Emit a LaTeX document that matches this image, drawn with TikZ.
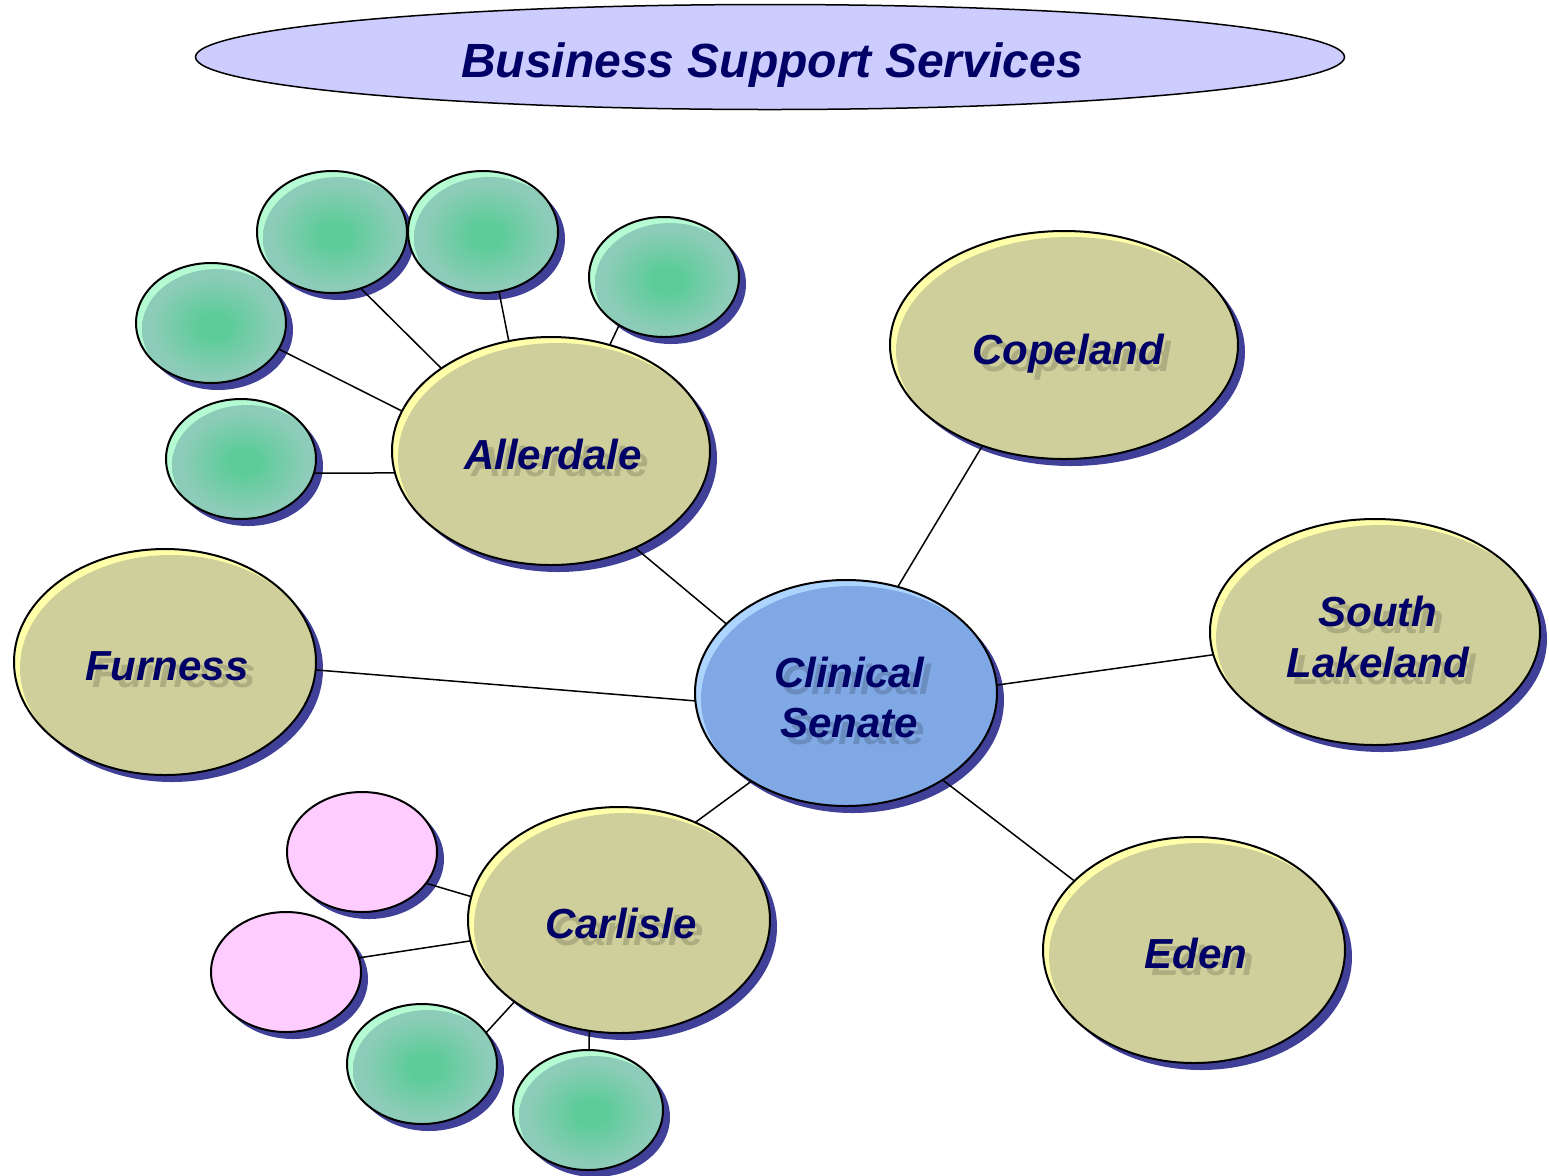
\documentclass[tikz,border=0pt]{standalone}
\usepackage{fontspec}
\setmainfont{Liberation Sans}
\usetikzlibrary{shapes.geometric}

\definecolor{khakimain}{RGB}{207,207,155}
\definecolor{khakihi}{RGB}{255,255,170}
\definecolor{bluemain}{RGB}{128,168,228}
\definecolor{bluehi}{RGB}{172,212,255}
\definecolor{greenhi}{RGB}{180,250,210}
\definecolor{greencore}{RGB}{94,204,153}
\definecolor{greenrim}{RGB}{140,204,184}
\definecolor{pinkfill}{RGB}{255,204,255}
\definecolor{dropblue}{RGB}{64,64,153}
\definecolor{titlefill}{RGB}{204,204,255}
\definecolor{navy}{RGB}{0,0,102}

% soft green glow used inside the small satellite bubbles
\pgfdeclareradialshading{greenglow}{\pgfpoint{0bp}{0bp}}{%
  color(0bp)=(greencore); color(5bp)=(greencore); color(20bp)=(greenrim);
  color(25bp)=(greenrim); color(50bp)=(greenrim)}

\newcommand\brx{0}
\newcommand\bry{0}
% #1 name, #2 x, #3 y, #4 x radius, #5 y radius (all in px units), #6 style
\newcommand\bubble[6]{%
  \fill[dropblue] (#2+7,#3+7) ellipse [x radius={#4*0.5pt}, y radius={#5*0.5pt}];
  \renewcommand\brx{#4}\renewcommand\bry{#5}%
  \node[#6, minimum width={#4*1pt}, minimum height={#5*1pt}] (#1) at (#2,#3) {};
}
% #1 name, #2 x, #3 baseline y, #4 text
\newcommand\bublabel[4]{%
  \node[lblshadow] (#1s) at (#2+7,#3+7) {#4};
  \node[lbl] (#1) at (#2,#3) {#4};
}

\tikzset{
  bubblebase/.style={ellipse, draw=black, line width=1pt, inner sep=0pt, outer sep=0pt},
  khaki/.style={bubblebase, fill=khakihi,
    path picture={\fill[khakimain] ([shift={(3pt,-3pt)}]path picture bounding box.center)
      ellipse [x radius={\brx*0.5pt}, y radius={\bry*0.5pt}];}},
  senate/.style={bubblebase, fill=bluehi,
    path picture={\fill[bluemain] ([shift={(3pt,-3pt)}]path picture bounding box.center)
      ellipse [x radius={\brx*0.5pt}, y radius={\bry*0.5pt}];}},
  greenb/.style={bubblebase, fill=greenhi,
    path picture={\shade[shading=greenglow] ([shift={(3pt,-3pt)}]path picture bounding box.center)
      ellipse [x radius={\brx*0.5pt}, y radius={\bry*0.5pt}];}},
  pinkb/.style={bubblebase, fill=pinkfill},
  link/.style={draw=black, line width=0.75pt},
  lbl/.style={font=\fontsize{21}{25}\selectfont\bfseries\itshape, text=navy,
    inner sep=0pt, anchor=base},
  lblshadow/.style={lbl, text=black, text opacity=0.16},
}

\begin{document}
\begin{tikzpicture}[x=0.5pt, y=-0.5pt]
\useasboundingbox (0,0) rectangle (1549,1175);

% heading
\node[ellipse, draw=black, line width=0.75pt, fill=titlefill, inner sep=0pt, outer sep=0pt,
      minimum width=574.5pt, minimum height=52.5pt] (title) at (770,57) {};
\node[font=\fontsize{24}{28}\selectfont\bfseries\itshape, text=navy, anchor=base, inner sep=0pt]
      (titletext) at (772,77) {Business Support Services};

% main areas
\bubble{all}{551}{451}{159}{114}{khaki}
\bubble{cop}{1064}{345}{174}{114}{khaki}
\bubble{sl}{1375}{632}{165}{113}{khaki}
\bubble{fur}{165}{662}{151}{113}{khaki}
\bubble{eden}{1194}{950}{151}{113}{khaki}
\bubble{car}{619}{920}{151}{113}{khaki}
\bubble{cs}{846}{693}{151}{113}{senate}

% satellites around Allerdale
\bubble{g1}{332}{232}{75}{61}{greenb}
\bubble{g2}{483}{232}{75}{61}{greenb}
\bubble{g3}{664}{277}{75}{60}{greenb}
\bubble{g4}{211}{323}{75}{60}{greenb}
\bubble{g5}{241}{459}{75}{60}{greenb}

% satellites around Carlisle
\bubble{p1}{362}{852}{75}{60}{pinkb}
\bubble{p2}{286}{972}{75}{60}{pinkb}
\bubble{g6}{422}{1064}{75}{60}{greenb}
\bubble{g7}{588}{1110}{75}{60}{greenb}

% connectors
\draw[link] (g1.-63.8) -- (all.143.7);
\draw[link] (g2.-75.3) -- (all.111.2);
\draw[link] (g3.-133.7) -- (all.61.6);
\draw[link] (g4.-21.5) -- (all.165.1);
\draw[link] (g5.-11.3) -- (all.188.3);
\draw[link] (all.-49.7) -- (cs.150.7);
\draw[link] (cop.-129.6) -- (cs.64.6);
\draw[link] (sl.188.3) -- (cs.3.0);
\draw[link] (fur.-3.0) -- (cs.183.0);
\draw[link] (eden.150.7) -- (cs.-42.7);
\draw[link] (car.52.2) -- (cs.-137.3);
\draw[link] (p1.-26.6) -- (car.171.7);
\draw[link] (p2.11.2) -- (car.188.7);
\draw[link] (g6.26.9) -- (car.218.3);
\draw[link] (g7.89) -- (car.255.1);

% labels
\bublabel{allt}{553}{469}{Allerdale}
\bublabel{copt}{1068}{364}{Copeland}
\bublabel{slta}{1378}{626}{South}
\bublabel{sltb}{1378}{677}{Lakeland}
\bublabel{csta}{849}{687}{Clinical}
\bublabel{cstb}{849}{737}{Senate}
\bublabel{furt}{167}{680}{Furness}
\bublabel{cart}{621}{938}{Carlisle}
\bublabel{edent}{1196}{968}{Eden}
\end{tikzpicture}
\end{document}
